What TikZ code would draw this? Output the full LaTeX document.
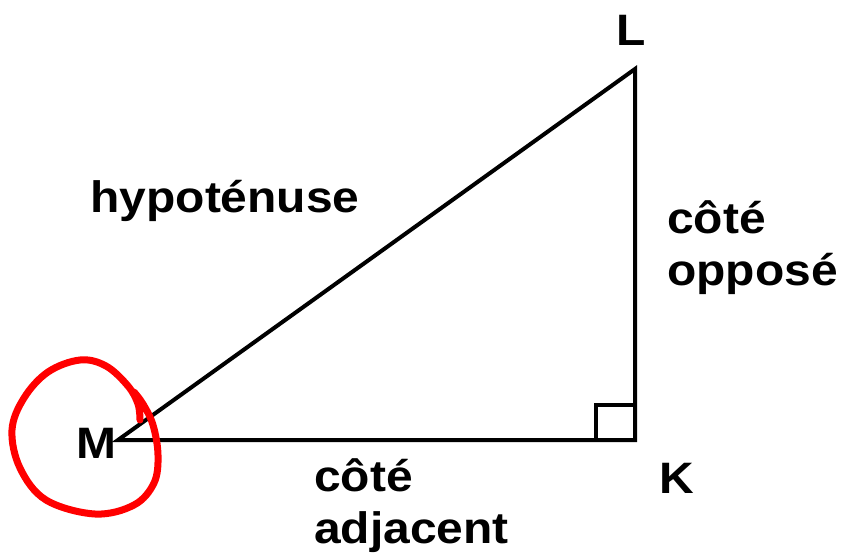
\documentclass[tikz,border=0pt]{standalone}
\usepackage{fontspec}
\setmainfont[FakeStretch=1.09]{Liberation Sans}
\begin{document}
\begin{tikzpicture}[x=1pt,y=-1pt,
    lab/.style={font=\fontsize{44}{52}\selectfont\bfseries, inner sep=0pt, anchor=base}]
            \useasboundingbox (0,0) rectangle (851,556);
            \coordinate (M) at (118,440);
            \coordinate (K) at (635,440);
            \coordinate (L) at (635,69);
            \draw[line width=4pt, line join=miter] (M) -- (K) -- (L) -- cycle;
            \draw[line width=4pt] (K) ++(-39,0) -- ++(0,-35) -- ++(39,0); % angle droit
            \node[lab] (nL) at (631,46) {L};
            \node[lab] (nM) at (96,458) {M};
            \node[lab] (nK) at (677,493) {K};
            \node[lab] (hyp) at (225,213) {hypoténuse};
            \node[lab, anchor=base west, align=left] (opp) at (667,285) {côté\\opposé}; % base = 2e ligne
            \node[lab, anchor=base west, align=left] (adj) at (314,543) {côté\\adjacent};
            % cercle rouge autour de M
            \draw[red, line width=7pt, line cap=round, line join=round] plot[smooth, tension=0.6] coordinates {
                (140,420) (138,404) (128,386) (106,366) (80,360) (48,372) (24,398) (12,430) (20,468)
                (46,500) (95,514) (134,505) (154,483) (158,455) (153,425) (143,404) (134,392)};
        \end{tikzpicture}
\end{document}
